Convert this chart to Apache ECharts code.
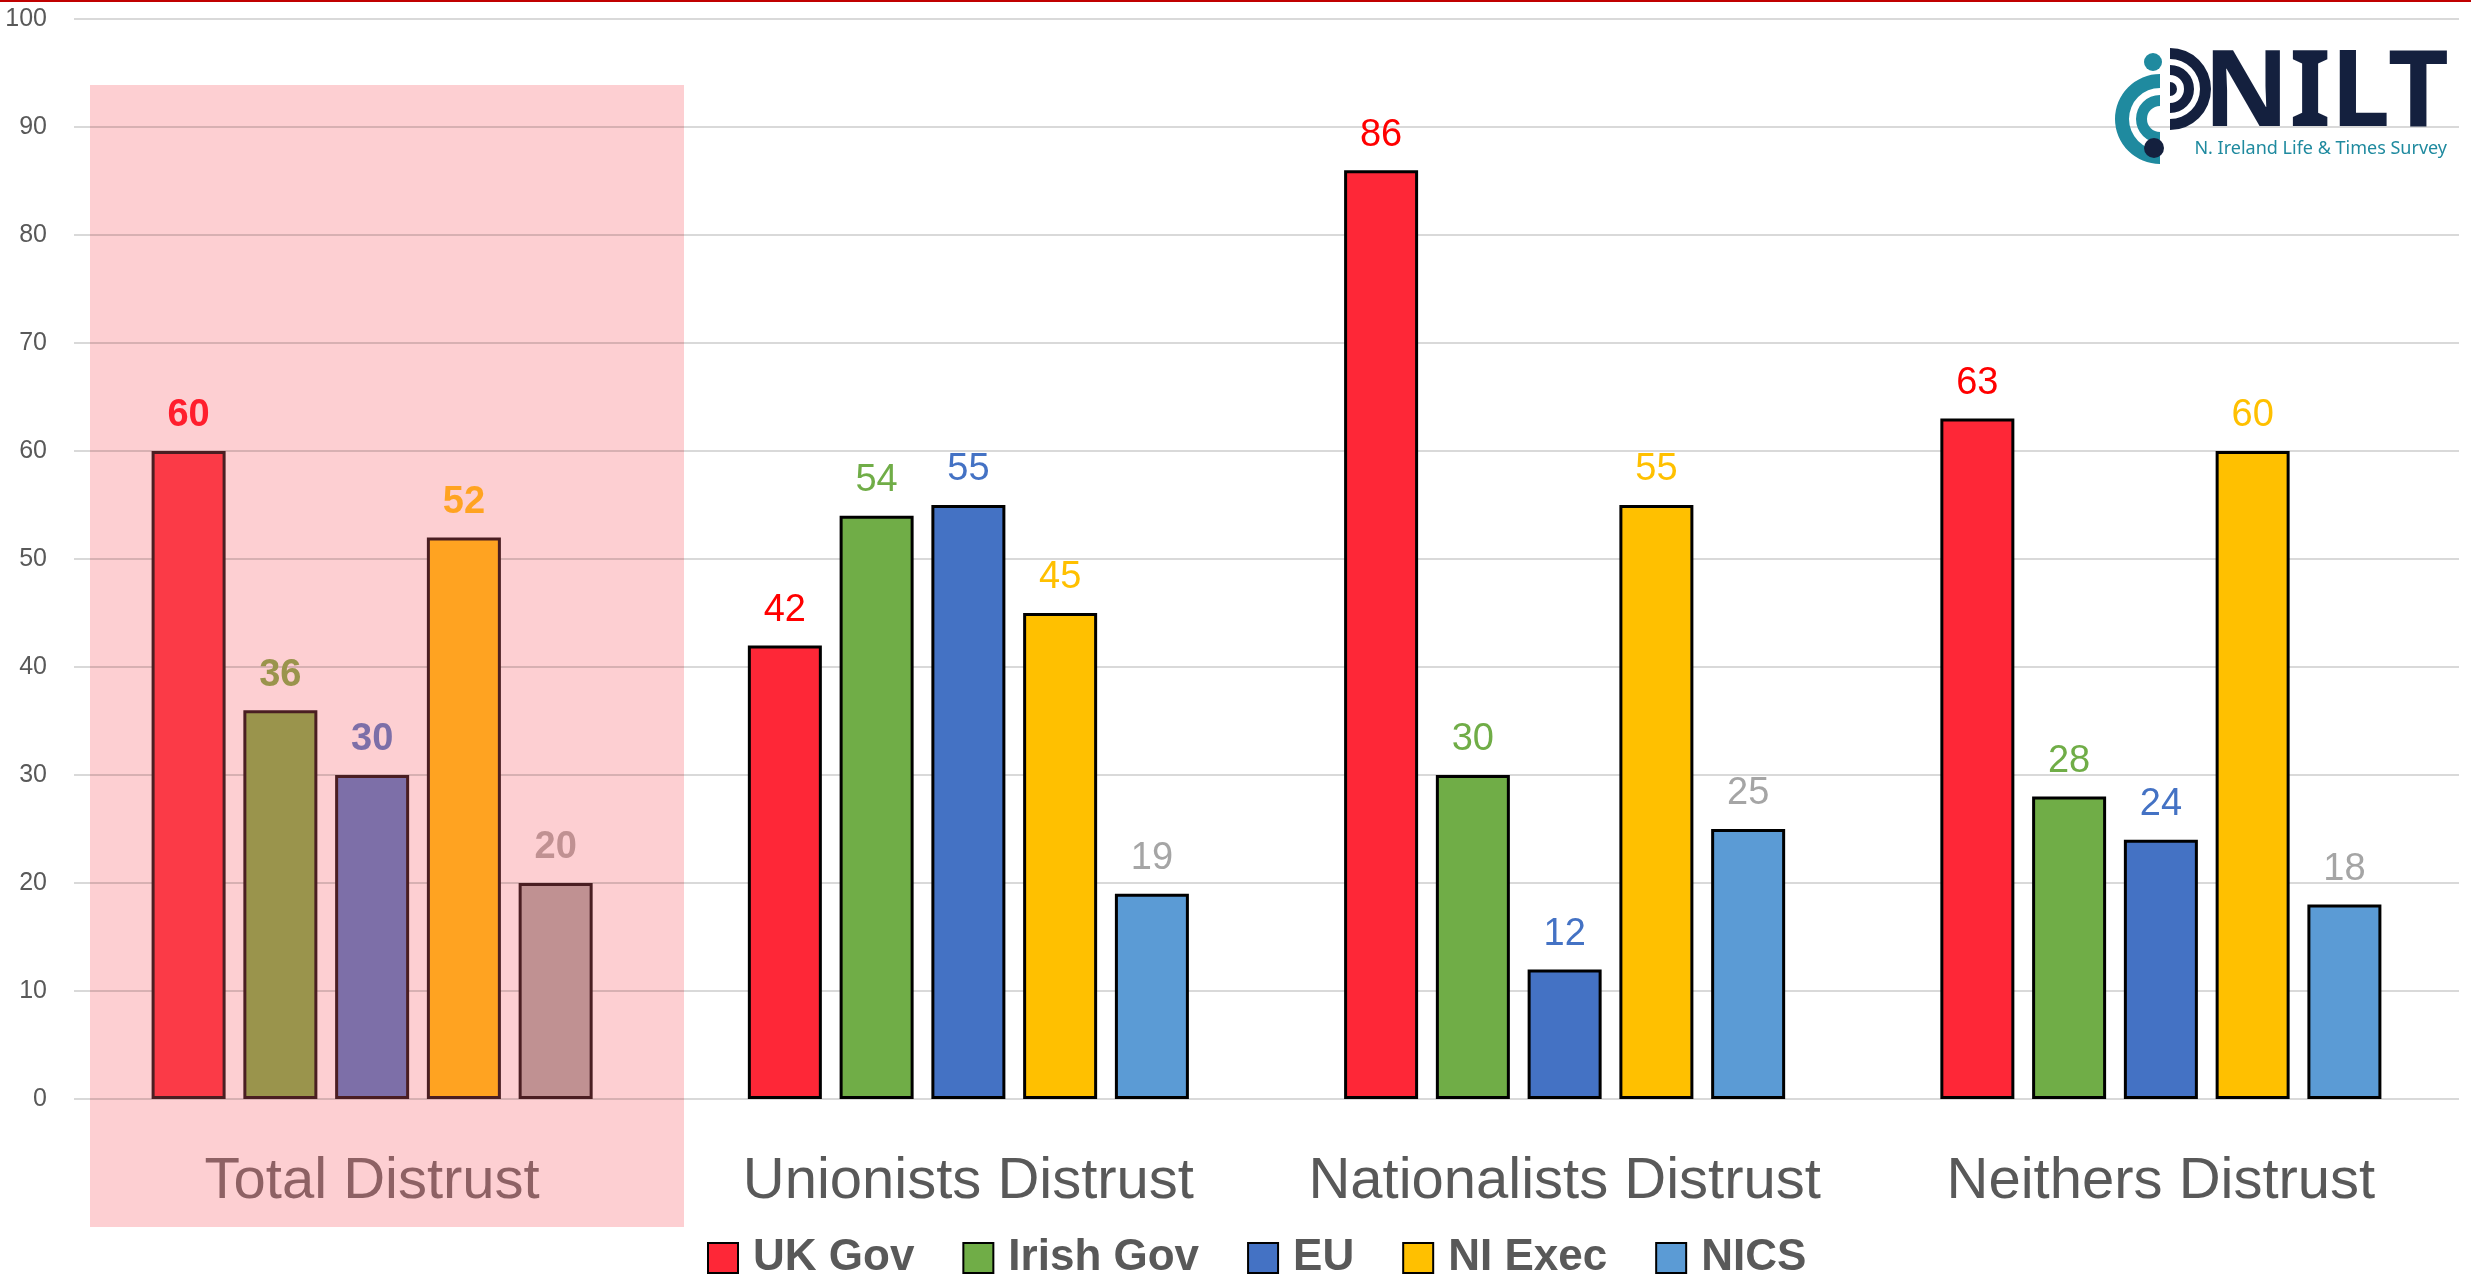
<!DOCTYPE html>
<html>
<head>
<meta charset="utf-8">
<script src="https://cdn.jsdelivr.net/npm/echarts@6/dist/echarts.min.js"></script>
<style>
html,body{margin:0;padding:0;background:#fff;}
#chart{width:2471px;height:1278px;}
</style>
</head>
<body>
<div id="chart"></div>
<script>
// ---- data ----
const categories = ['Total Distrust', 'Unionists Distrust', 'Nationalists Distrust', 'Neithers Distrust'];
const seriesNames = ['UK Gov', 'Irish Gov', 'EU', 'NI Exec', 'NICS'];
const ukGov    = [60, 42, 86, 63];
const irishGov = [36, 54, 30, 28];
const eu       = [30, 55, 12, 24];
const niExec   = [52, 45, 55, 60];
const nics     = [20, 19, 25, 18];
const yTicks = [0, 10, 20, 30, 40, 50, 60, 70, 80, 90, 100];

// ---- styles ----
const seriesValues = [ukGov, irishGov, eu, niExec, nics];
const seriesColors = ['#FE2737', '#70AD47', '#4472C4', '#FFC000', '#5B9BD5'];
const labelColors  = ['#FF0000', '#70AD47', '#4472C4', '#FFC000', '#A5A5A5'];
const totalColors  = ['#FB3A47', '#9A944C', '#7D6FA8', '#FFA321', '#C09192'];
const totalLabelColors = ['#FF1E2D', '#9A944C', '#7D6FA8', '#FFA321', '#C09192'];
const FONT = '"Liberation Sans", Arial, sans-serif';

const chart = echarts.init(document.getElementById('chart'), null, {renderer: 'canvas'});

const series = seriesNames.map((name, i) => ({
  name: name,
  type: 'bar',
  barWidth: 74,
  barGap: '24%',
  itemStyle: { color: seriesColors[i], borderColor: '#000', borderWidth: 3 },
  label: {
    show: true, position: 'top', distance: 16,
    fontSize: 38, lineHeight: 38, fontFamily: FONT, color: labelColors[i]
  },
  data: seriesValues[i].map((v, j) => j === 0 ? {
    value: v,
    itemStyle: { color: totalColors[i], borderColor: '#4A1E22', borderWidth: 3 },
    label: { color: totalLabelColors[i], fontWeight: 'bold' }
  } : v)
}));

const teal = '#1F8A9F', navy = '#14203E';

const option = {
  animation: false,
  backgroundColor: '#ffffff',
  textStyle: { fontFamily: FONT },
  grid: { left: 74, right: 12, top: 19, bottom: 179, containLabel: false },
  legend: {
    data: seriesNames,
    left: 707, top: 1236, padding: 0,
    itemWidth: 30, itemHeight: 30, itemGap: 48,
    icon: 'rect',
    textStyle: { fontSize: 44, lineHeight: 44, fontWeight: 'bold', color: '#595959', fontFamily: FONT, padding: [0, 0, 0, 10] }
  },
  xAxis: {
    type: 'category',
    data: categories,
    axisLine: { show: false },
    axisTick: { show: false },
    axisLabel: {
      interval: 0,
      hideOverlap: false,
      margin: 54,
      fontSize: 58, lineHeight: 58, color: '#595959', fontFamily: FONT,
      formatter: function (v, idx) { return idx === 0 ? '{t|' + v + '}' : v; },
      rich: { t: { fontSize: 58, lineHeight: 58, color: '#8E6164', fontFamily: FONT } }
    }
  },
  yAxis: {
    type: 'value',
    min: yTicks[0], max: yTicks[yTicks.length - 1], interval: yTicks[1] - yTicks[0],
    axisLine: { show: false },
    axisTick: { show: false },
    axisLabel: { fontSize: 25, color: '#595959', margin: 27, fontFamily: FONT },
    splitLine: { lineStyle: { color: 'rgba(0,0,0,0.15)', width: 2 } }
  },
  graphic: [
    { type: 'rect', z: -10, silent: true, shape: { x: 90, y: 85, width: 594, height: 1142 }, style: { fill: '#FDCFD2' } },
    { type: 'rect', z: 10, silent: true, shape: { x: 0, y: 0, width: 2471, height: 2 }, style: { fill: '#C00000' } },
    // logo icon
    { type: 'sector', z: 10, silent: true, shape: { cx: 2170, cy: 89, r: 41, r0: 30, startAngle: -Math.PI / 2, endAngle: Math.PI / 2, clockwise: true }, style: { fill: navy } },
    { type: 'sector', z: 10, silent: true, shape: { cx: 2170, cy: 89, r: 24, r0: 14, startAngle: -Math.PI / 2, endAngle: Math.PI / 2, clockwise: true }, style: { fill: navy } },
    { type: 'sector', z: 10, silent: true, shape: { cx: 2170, cy: 89, r: 7, r0: 0, startAngle: -Math.PI / 2, endAngle: Math.PI / 2, clockwise: true }, style: { fill: navy } },
    { type: 'sector', z: 10, silent: true, shape: { cx: 2160, cy: 119, r: 45, r0: 31, startAngle: Math.PI / 2, endAngle: Math.PI * 1.5, clockwise: true }, style: { fill: teal } },
    { type: 'sector', z: 10, silent: true, shape: { cx: 2160, cy: 119, r: 24, r0: 13, startAngle: Math.PI / 2, endAngle: Math.PI * 1.5, clockwise: true }, style: { fill: teal } },
    { type: 'circle', z: 10, silent: true, shape: { cx: 2153, cy: 62, r: 9 }, style: { fill: teal } },
    { type: 'circle', z: 10, silent: true, shape: { cx: 2154, cy: 148, r: 10 }, style: { fill: navy } },
    { type: 'text', z: 10, silent: true, x: 2449, y: 96, style: { text: 'NILT', fill: navy, font: 'bold 106px "Noto Sans", sans-serif', textAlign: 'right', textVerticalAlign: 'middle' } },
    { type: 'text', z: 10, silent: true, x: 2447, y: 149, style: { text: 'N. Ireland Life & Times Survey', fill: teal, font: '18px "Noto Sans", sans-serif', textAlign: 'right', textVerticalAlign: 'middle' } }
  ],
  series: series
};

chart.setOption(option);
</script>
</body>
</html>
